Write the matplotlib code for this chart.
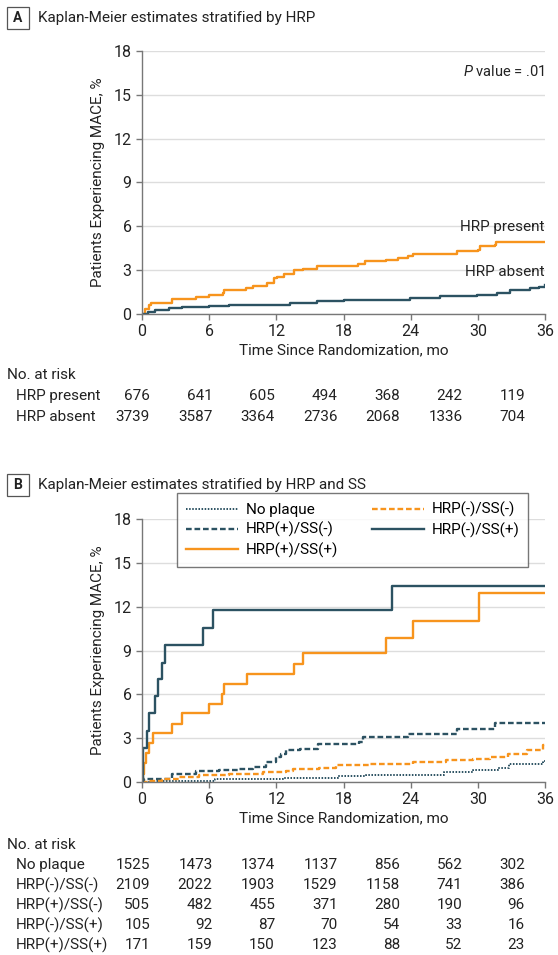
import matplotlib
matplotlib.use('Agg')
import matplotlib.pyplot as plt
from matplotlib.patches import Rectangle

plt.rcParams['font.family'] = ['Roboto', 'DejaVu Sans']
plt.rcParams['font.size'] = 10
plt.rcParams['mathtext.fontset'] = 'custom'
plt.rcParams['mathtext.rm'] = 'Roboto'
plt.rcParams['mathtext.it'] = 'Roboto:italic'

ORANGE = '#F7941D'
TEAL = '#2C5262'
INK = '#222222'

# Panel A: Kaplan-Meier step data (months, %)
hrp_present_t = [0, 0.3, 0.6, 0.8, 2.7, 4.8, 6.0, 7.2, 7.3, 9.3, 9.9, 11.2, 11.8, 12.1, 12.7, 13.6, 14.4, 15.6,
                 19.3, 19.9, 21.8, 22.9, 23.8, 24.2, 28.1, 30.0, 30.2, 31.5, 31.6, 36]
hrp_present_v = [0, 0.35, 0.63, 0.78, 1.05, 1.15, 1.3, 1.42, 1.65, 1.76, 1.92, 2.1, 2.44, 2.55, 2.73, 3.0, 3.1, 3.3,
                 3.45, 3.6, 3.68, 3.8, 3.95, 4.13, 4.3, 4.36, 4.65, 4.7, 4.92, 4.92]
hrp_absent_t = [0, 0.5, 1.2, 2.4, 3.6, 6.0, 7.8, 13.2, 15.6, 18.0, 20.3, 23.9, 26.6, 29.9, 31.7, 32.9, 34.7, 35.5, 36]
hrp_absent_v = [0, 0.12, 0.25, 0.4, 0.47, 0.56, 0.63, 0.74, 0.86, 0.93, 0.97, 1.08, 1.2, 1.3, 1.47, 1.65, 1.76, 1.85, 1.97]

# Panel B
nop_t = [0, 1.0, 6.5, 12.6, 14.0, 17.5, 20.0, 26.5, 27.0, 29.6, 31.8, 32.8, 35.8, 36]
nop_v = [0, 0.05, 0.2, 0.25, 0.3, 0.4, 0.45, 0.5, 0.7, 0.8, 0.95, 1.2, 1.45, 1.45]
mm_t = [0, 0.5, 1.8, 3.3, 5.1, 7.8, 10.8, 12.9, 13.5, 15.8, 17.3, 20.3, 23.6, 24.2, 27.2, 29.6, 31.1, 32.7, 34.4, 35.8, 36]
mm_v = [0, 0.1, 0.23, 0.34, 0.46, 0.57, 0.69, 0.75, 0.91, 0.98, 1.14, 1.21, 1.26, 1.37, 1.49, 1.6, 1.71, 1.94, 2.17, 2.5, 2.6]
pm_t = [0, 0.2, 2.7, 4.8, 6.9, 8.7, 9.9, 11.1, 12.0, 12.4, 12.9, 14.1, 15.7, 19.4, 19.7, 23.8, 28.1, 31.5, 36]
pm_v = [0, 0.23, 0.57, 0.73, 0.8, 0.91, 1.03, 1.37, 1.71, 1.94, 2.17, 2.29, 2.63, 2.74, 3.09, 3.31, 3.61, 4.05, 4.05]
mp_t = [0, 0.1, 0.48, 0.63, 1.16, 1.46, 1.76, 2.06, 5.46, 6.36, 22.3, 36]
mp_v = [0, 2.33, 3.5, 4.69, 5.87, 7.02, 8.16, 9.35, 10.56, 11.77, 13.42, 13.42]
pp_t = [0, 0.1, 0.2, 0.4, 0.63, 0.98, 2.66, 3.6, 6.0, 7.13, 7.34, 9.34, 13.6, 14.4, 21.76, 24.2, 30.1, 36]
pp_v = [0, 0.57, 1.33, 1.99, 2.67, 3.36, 4.0, 4.69, 5.37, 6.0, 6.7, 7.38, 8.11, 8.85, 9.83, 11.04, 12.96, 12.96]

xticks = [0, 6, 12, 18, 24, 30, 36]
yticks = [0, 3, 6, 9, 12, 15, 18]

risk_a_labels = ['HRP present', 'HRP absent']
risk_a = [[676, 641, 605, 494, 368, 242, 119],
          [3739, 3587, 3364, 2736, 2068, 1336, 704]]
risk_b_labels = ['No plaque', 'HRP(-)/SS(-)', 'HRP(+)/SS(-)', 'HRP(-)/SS(+)', 'HRP(+)/SS(+)']
risk_b = [[1525, 1473, 1374, 1137, 856, 562, 302],
          [2109, 2022, 1903, 1529, 1158, 741, 386],
          [505, 482, 455, 371, 280, 190, 96],
          [105, 92, 87, 70, 54, 33, 16],
          [171, 159, 150, 123, 88, 52, 23]]

W, H = 558, 955
FS = 11
fig = plt.figure(figsize=(W / 100, H / 100), dpi=100)


def fx(px):
    return px / W


def fy(py):
    return 1 - py / H


def style_axes(ax):
    ax.set_xlim(0, 36)
    ax.set_ylim(0, 18)
    ax.set_xticks(xticks)
    ax.set_yticks(yticks)
    for s in ['top', 'right']:
        ax.spines[s].set_visible(False)
    for s in ['left', 'bottom']:
        ax.spines[s].set_color('#777777')
        ax.spines[s].set_linewidth(1.0)
    ax.tick_params(colors='#777777', labelcolor=INK, labelsize=11.5, length=4, width=1)
    ax.grid(axis='y', color='#dddddd', linewidth=1)
    ax.set_axisbelow(True)
    ax.set_xlabel('Time Since Randomization, mo', fontsize=FS, color=INK, labelpad=3)
    ax.set_ylabel('Patients Experiencing MACE, %', fontsize=FS, color=INK, labelpad=6)


def panel_title(letter, text, py):
    fig.patches.append(Rectangle((fx(7), fy(py + 11)), fx(22), 22 / H, transform=fig.transFigure,
                                 facecolor='white', edgecolor='#555555', linewidth=0.9))
    fig.text(fx(18), fy(py), letter, ha='center', va='center', fontsize=10, fontweight='bold', color=INK)
    fig.text(fx(38), fy(py), text, ha='left', va='center', fontsize=11, color=INK)


def risk_table(labels, rows, py0, step):
    fig.text(fx(7), fy(py0), 'No. at risk', ha='left', va='center', fontsize=FS, color=INK)
    for i, (lab, row) in enumerate(zip(labels, rows)):
        y = fy(py0 + step * (i + 1))
        fig.text(fx(16), y, lab, ha='left', va='center', fontsize=FS, color=INK)
        for j, v in enumerate(row):
            fig.text(fx(150 + 62.5 * j), y, str(v), ha='right', va='center', fontsize=FS, color=INK)


# Panel A
axA = fig.add_axes([fx(142), fy(314), fx(545 - 142), (314 - 51) / H])
style_axes(axA)
axA.step(hrp_present_t, hrp_present_v, where='post', color=ORANGE, lw=1.7)
axA.step(hrp_absent_t, hrp_absent_v, where='post', color=TEAL, lw=1.7)
axA.text(36, 5.96, 'HRP present', ha='right', va='center', fontsize=FS, color=INK)
axA.text(36, 2.88, 'HRP absent', ha='right', va='center', fontsize=FS, color=INK)
axA.text(36, 16.6, r'$\it{P}$ value = .01', ha='right', va='center', fontsize=10.5, color=INK)
panel_title('A', 'Kaplan-Meier estimates stratified by HRP', 18)
risk_table(risk_a_labels, risk_a, 375, 21)

# Panel B
axB = fig.add_axes([fx(142), fy(782), fx(545 - 142), (782 - 519) / H])
style_axes(axB)
axB.step(nop_t, nop_v, where='post', color=TEAL, lw=1.4, ls=(0, (0.8, 0.8)), label='No plaque')
axB.step(pm_t, pm_v, where='post', color=TEAL, lw=1.7, ls=(0, (2.4, 1.2)), label='HRP(+)/SS(-)')
axB.step(pp_t, pp_v, where='post', color=ORANGE, lw=1.7, label='HRP(+)/SS(+)')
axB.step(mm_t, mm_v, where='post', color=ORANGE, lw=1.7, ls=(0, (2.4, 1.2)), label='HRP(-)/SS(-)')
axB.step(mp_t, mp_v, where='post', color=TEAL, lw=1.7, label='HRP(-)/SS(+)')
leg = fig.legend(*axB.get_legend_handles_labels(), ncol=2, loc='upper left',
                 bbox_to_anchor=(fx(177), fy(493)), borderaxespad=0, fontsize=FS, frameon=True,
                 fancybox=False, borderpad=0.6, handlelength=3.4, columnspacing=2.2, labelspacing=0.32,
                 handletextpad=0.5)
leg.get_frame().set_edgecolor('#555555')
leg.get_frame().set_linewidth(1)
panel_title('B', 'Kaplan-Meier estimates stratified by HRP and SS', 485)
risk_table(risk_b_labels, risk_b, 845, 20)

fig.savefig('out.png', dpi=100)
